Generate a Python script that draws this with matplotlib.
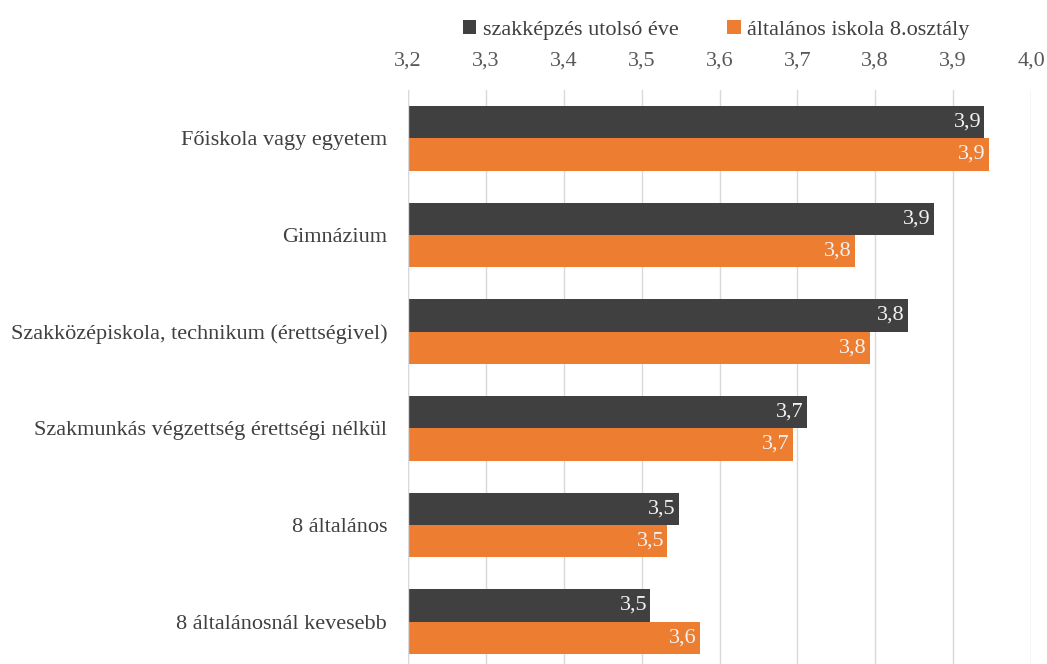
import matplotlib.pyplot as plt
import numpy as np

# ---------------- data ----------------
categories = ['Főiskola vagy egyetem', 'Gimnázium',
              'Szakközépiskola, technikum (érettségivel)',
              'Szakmunkás végzettség érettségi nélkül',
              '8 általános', '8 általánosnál kevesebb']
szakkepzes = [3.94, 3.875, 3.842, 3.712, 3.548, 3.511]
altalanos = [3.946, 3.774, 3.793, 3.694, 3.533, 3.575]
series_names = ['szakképzés utolsó éve', 'általános iskola 8.osztály']
xticks = [3.2, 3.3, 3.4, 3.5, 3.6, 3.7, 3.8, 3.9, 4.0]

plt.rcParams['font.family'] = ['Liberation Serif', 'DejaVu Serif']

dark = '#404040'
orange = '#ED7D31'

fig = plt.figure(figsize=(10.47, 6.64), dpi=100)
ax = fig.add_axes([408/1047, -6/664, (1031-408)/1047, (664-90+6)/664])

y = np.arange(len(categories))
h = 0.335
base = 3.2
ax.barh(y - h/2, np.array(szakkepzes) - base, left=base, height=h, color=dark, label=series_names[0], zorder=3)
ax.barh(y + h/2, np.array(altalanos) - base, left=base, height=h, color=orange, label=series_names[1], zorder=3)

for i in range(len(categories)):
    ax.text(szakkepzes[i] - 0.004, y[i] - h/2, ('%.1f' % szakkepzes[i]).replace('.', ','),
            ha='right', va='center', color='#f2f2f2', fontsize=16, zorder=4)
    ax.text(altalanos[i] - 0.004, y[i] + h/2, ('%.1f' % altalanos[i]).replace('.', ','),
            ha='right', va='center', color='#f2f2f2', fontsize=16, zorder=4)

ax.set_xlim(3.2, 4.0)
ax.set_ylim(len(categories) - 0.5, -0.5)
ax.set_yticks(y)
ax.set_yticklabels(categories, fontsize=16, color='#404040')
ax.set_xticks(xticks)
ax.set_xticklabels([('%.1f' % t).replace('.', ',') for t in xticks], fontsize=16, color='#595959')
ax.xaxis.tick_top()
ax.tick_params(axis='x', length=0, pad=14)
ax.tick_params(axis='y', length=0, pad=15)
ax.grid(axis='x', color='#d9d9d9', linewidth=1, zorder=0)
for s in ax.spines.values():
    s.set_visible(False)
ax.axvline(3.2, color='#d9d9d9', linewidth=1, zorder=5)

fig.legend(loc='upper center', bbox_to_anchor=(0.684, 1.0), ncol=2, frameon=False,
           fontsize=16, handlelength=0.6, handleheight=0.6, columnspacing=2.2,
           handletextpad=0.3, labelcolor='#404040')

fig.savefig('out.png', dpi=100)
